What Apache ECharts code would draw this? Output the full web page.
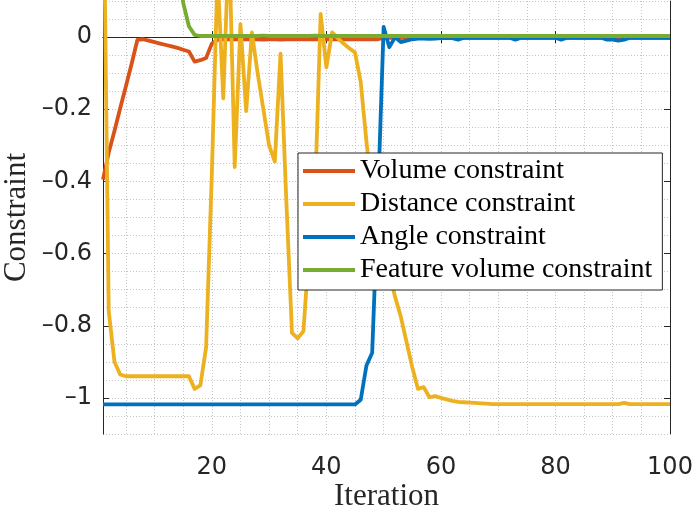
<!DOCTYPE html>
<html>
<head>
<meta charset="utf-8">
<script src="https://cdn.jsdelivr.net/npm/echarts@6/dist/echarts.min.js"></script>
<style>
  html, body { margin: 0; padding: 0; background: #fff; }
  #chart { width: 696px; height: 507px; }
</style>
</head>
<body>
<div id="chart"></div>
<script>
// iteration numbers 1..100 (x axis)
const iterations = Array.from({ length: 100 }, (_, i) => i + 1);

const seriesNames = ['Volume constraint', 'Distance constraint', 'Angle constraint', 'Feature volume constraint'];
const seriesColors = ['#D95319', '#EDB120', '#0072BD', '#77AC30'];

const xTicks = [20, 40, 60, 80, 100];
const yTicks = [-1, -0.8, -0.6, -0.4, -0.2, 0];

const volume = [
  -0.395, -0.32, -0.26, -0.197, -0.136, -0.074, -0.008, -0.006, -0.01, -0.014,
  -0.018, -0.022, -0.026, -0.03, -0.035, -0.04, -0.068, -0.064, -0.058, -0.018,
  -0.008, -0.006, -0.006, -0.006, -0.006, -0.006, -0.006, -0.006, -0.007, -0.006,
  -0.006, -0.007, -0.006, -0.006, -0.006, -0.006, -0.006, -0.006, -0.006, -0.006,
  -0.006, -0.006, -0.006, -0.006, -0.006, -0.006, -0.006, -0.006, -0.006, -0.002,
  -0.002, -0.002, -0.002, -0.002, -0.002, -0.002, -0.002, -0.002, -0.002, -0.002,
  -0.002, -0.002, -0.002, -0.002, -0.002, -0.002, -0.002, -0.002, -0.002, -0.002,
  -0.002, -0.002, -0.002, -0.002, -0.002, -0.002, -0.002, -0.002, -0.002, -0.002,
  -0.002, -0.002, -0.002, -0.002, -0.002, -0.002, -0.002, -0.002, -0.002, -0.002,
  -0.002, -0.002, -0.002, -0.002, -0.002, -0.002, -0.002, -0.002, -0.002, -0.002
];

const distance = [
  0.55, -0.76, -0.9, -0.935, -0.94, -0.94, -0.94, -0.94, -0.94, -0.94,
  -0.94, -0.94, -0.94, -0.94, -0.94, -0.94, -0.975, -0.965, -0.86, -0.38,
  0.18, -0.17, 0.28, -0.36, 0.036, -0.205, 0.013, -0.1, -0.2, -0.3,
  -0.345, -0.046, -0.45, -0.82, -0.835, -0.815, -0.58, -0.45, 0.064, -0.084,
  0.013, -0.003, -0.018, -0.031, -0.043, -0.125, -0.29, -0.43, -0.52, -0.59,
  -0.655, -0.72, -0.775, -0.845, -0.915, -0.975, -0.97, -0.998, -0.995, -1.0,
  -1.004, -1.008, -1.011, -1.012, -1.013, -1.014, -1.015, -1.016, -1.017, -1.017,
  -1.017, -1.017, -1.017, -1.017, -1.017, -1.017, -1.017, -1.017, -1.017, -1.017,
  -1.017, -1.017, -1.017, -1.017, -1.017, -1.017, -1.017, -1.017, -1.017, -1.017,
  -1.017, -1.014, -1.017, -1.017, -1.017, -1.017, -1.017, -1.017, -1.017, -1.017
];

const angle = [
  -1.018, -1.018, -1.018, -1.018, -1.018, -1.018, -1.018, -1.018, -1.018, -1.018,
  -1.018, -1.018, -1.018, -1.018, -1.018, -1.018, -1.018, -1.018, -1.018, -1.018,
  -1.018, -1.018, -1.018, -1.018, -1.018, -1.018, -1.018, -1.018, -1.018, -1.018,
  -1.018, -1.018, -1.018, -1.018, -1.018, -1.018, -1.018, -1.018, -1.018, -1.018,
  -1.018, -1.018, -1.018, -1.018, -1.018, -1.005, -0.91, -0.875, -0.45, 0.028,
  -0.028, 0.0, -0.014, -0.01, -0.006, -0.004, -0.004, -0.005, -0.004, -0.003,
  -0.002, -0.003, -0.007, -0.002, -0.002, -0.002, -0.002, -0.002, -0.002, -0.002,
  -0.002, -0.002, -0.007, -0.002, -0.002, -0.002, -0.002, -0.002, -0.002, -0.002,
  -0.007, -0.002, -0.002, -0.002, -0.002, -0.002, -0.002, -0.002, -0.007, -0.007,
  -0.01, -0.007, -0.002, -0.002, -0.002, -0.002, -0.002, -0.002, -0.002, -0.002
];

const featureVolume = [
  0.9, 0.85, 0.8, 0.75, 0.7, 0.65, 0.6, 0.55, 0.5, 0.45,
  0.4, 0.35, 0.3, 0.25, 0.095, 0.03, 0.006, 0.003, 0.003, 0.003,
  0.003, 0.003, 0.003, 0.003, 0.003, 0.003, 0.003, 0.003, 0.004, 0.003,
  0.003, 0.003, 0.003, 0.003, 0.003, 0.003, 0.003, 0.004, 0.003, 0.003,
  0.003, 0.003, 0.003, 0.003, 0.003, 0.003, 0.003, 0.003, 0.003, 0.003,
  0.003, 0.003, 0.003, 0.003, 0.003, 0.003, 0.003, 0.003, 0.003, 0.003,
  0.003, 0.003, 0.003, 0.003, 0.003, 0.003, 0.003, 0.003, 0.003, 0.003,
  0.003, 0.003, 0.003, 0.003, 0.003, 0.003, 0.003, 0.003, 0.003, 0.003,
  0.003, 0.003, 0.003, 0.003, 0.003, 0.003, 0.003, 0.003, 0.003, 0.003,
  0.003, 0.003, 0.003, 0.003, 0.003, 0.003, 0.003, 0.003, 0.003, 0.003
];

const allValues = [volume, distance, angle, featureVolume];

const axisColor = '#262626';
const gridLine = { show: true, lineStyle: { color: '#c4c4c4', width: 1, type: [1, 2] } };
const hidden = { show: false };

// MATLAB prints the minus as a longer dash
function fmt(v) {
  return String(v).replace('-', '\u2013');
}

let chart = echarts.init(document.getElementById('chart'), null, { renderer: 'canvas' });

let option = {
  animation: false,
  grid: { left: 103, right: 26, top: 1, bottom: 73, containLabel: false, outerBoundsMode: 'none' },
  legend: {
    orient: 'vertical',
    left: 298,
    top: 153,
    backgroundColor: '#fff',
    borderColor: axisColor,
    borderWidth: 1,
    borderRadius: 0,
    padding: [4, 10, 6, 5],
    itemGap: 5,
    itemWidth: 52,
    itemHeight: 4,
    itemTextGap: 7,
    icon: 'rect',
    selectedMode: false,
    textStyle: { fontFamily: 'Liberation Serif', fontSize: 28, lineHeight: 26, color: '#000' },
    data: seriesNames
  },
  xAxis: [
    {
      type: 'value',
      position: 'bottom',
      min: 1,
      max: 100,
      axisLine: { show: true, lineStyle: { color: axisColor, width: 1 } },
      axisTick: { show: true, inside: true, length: 6, customValues: xTicks, lineStyle: { color: axisColor } },
      axisLabel: { customValues: xTicks, fontFamily: 'DejaVu Sans', fontSize: 24, color: axisColor, margin: 22 },
      splitLine: hidden,
      name: 'Iteration',
      nameLocation: 'middle',
      nameGap: 47,
      nameMoveOverlap: false,
      nameTextStyle: { fontFamily: 'Liberation Serif', fontSize: 31, color: axisColor }
    },
    {
      type: 'value',
      position: 'top',
      min: 1,
      max: 100,
      axisLine: { show: true, lineStyle: { color: axisColor, width: 1 } },
      axisTick: { show: true, inside: true, length: 6, customValues: xTicks, lineStyle: { color: axisColor } },
      axisLabel: hidden,
      splitLine: hidden
    },
    {
      // grid lines every 5 iterations
      type: 'value',
      position: 'bottom',
      min: 1,
      max: 100,
      splitNumber: 20,
      minInterval: 5,
      maxInterval: 5,
      axisLine: hidden,
      axisTick: hidden,
      axisLabel: hidden,
      splitLine: gridLine
    }
  ],
  yAxis: [
    {
      type: 'value',
      position: 'left',
      min: -1.1,
      max: 0.1,
      axisLine: { show: true, lineStyle: { color: axisColor, width: 1 } },
      axisTick: { show: true, inside: true, length: 6, customValues: yTicks, lineStyle: { color: axisColor } },
      axisLabel: { customValues: yTicks, formatter: fmt, fontFamily: 'DejaVu Sans', fontSize: 24, color: axisColor, margin: 11 },
      splitLine: hidden,
      name: 'Constraint',
      nameLocation: 'middle',
      nameGap: 71,
      nameMoveOverlap: false,
      nameTextStyle: { fontFamily: 'Liberation Serif', fontSize: 31, color: axisColor }
    },
    {
      type: 'value',
      position: 'right',
      min: -1.1,
      max: 0.1,
      axisLine: { show: true, lineStyle: { color: axisColor, width: 1 } },
      axisTick: { show: true, inside: true, length: 6, customValues: yTicks, lineStyle: { color: axisColor } },
      axisLabel: hidden,
      splitLine: hidden
    },
    {
      // grid lines every 0.05
      type: 'value',
      position: 'left',
      min: -1.1,
      max: 0.1,
      interval: 0.05,
      axisLine: hidden,
      axisTick: hidden,
      axisLabel: hidden,
      splitLine: gridLine
    }
  ],
  series: seriesNames.map((name, k) => ({
    name: name,
    type: 'line',
    xAxisIndex: 0,
    yAxisIndex: 0,
    symbol: 'none',
    showSymbol: false,
    clip: true,
    color: seriesColors[k],
    lineStyle: { color: seriesColors[k], width: 3.8, join: 'round' },
    data: iterations.map((it, i) => [it, allValues[k][i]])
  }))
};

chart.setOption(option);
</script>
</body>
</html>
